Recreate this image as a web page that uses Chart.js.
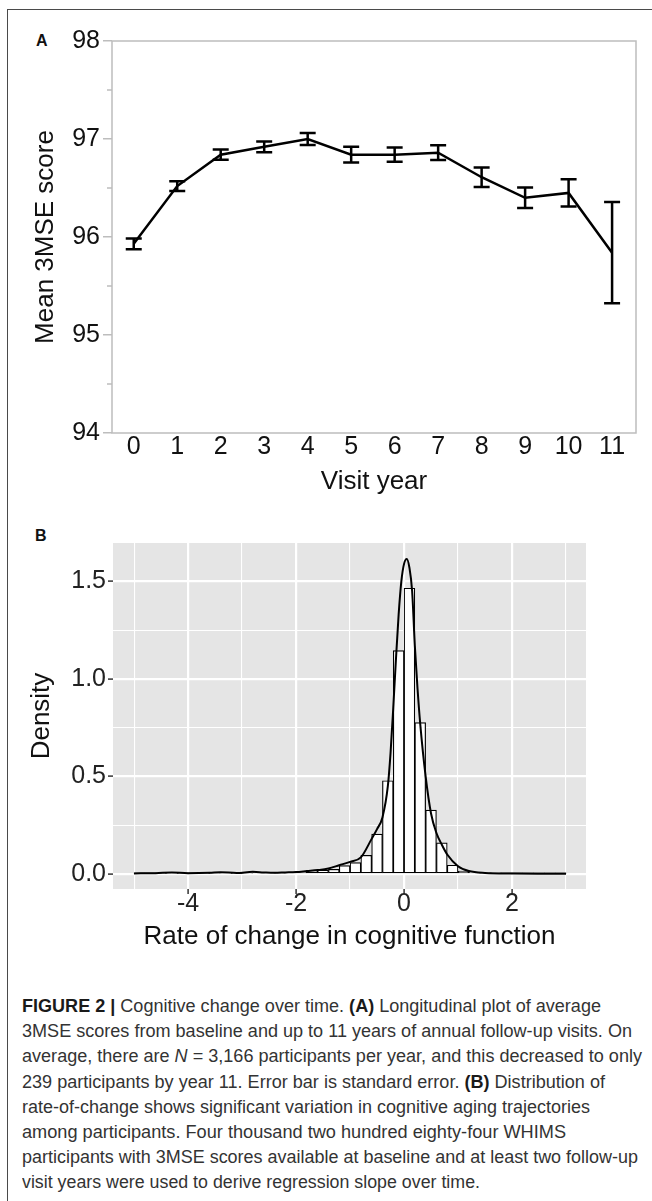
<!DOCTYPE html>
<html><head><meta charset="utf-8">
<script src="https://cdn.jsdelivr.net/npm/chart.js@4.4.0/dist/chart.umd.min.js"></script>
<style>
html,body{margin:0;padding:0;background:#fff;}
body{width:652px;height:1201px;position:relative;overflow:hidden;font-family:"Liberation Sans",Arial,sans-serif;}
#frame{position:absolute;left:7px;top:8.5px;width:700px;height:1300px;border-top:1.5px solid #4a4a4a;border-left:1.5px solid #4a4a4a;}
#cA{position:absolute;left:0;top:0;}
#cB{position:absolute;left:0;top:510px;}
.plabel{position:absolute;font-weight:bold;font-size:16px;line-height:1;color:#111;}
#caption{position:absolute;left:22px;top:994px;font-size:17.5px;line-height:25.2px;color:#333;}
#caption .ln{white-space:nowrap;transform-origin:0 50%;}
#caption b{color:#1a1a1a;}
</style></head>
<body>
<div id="frame"></div>
<div class="plabel" style="left:36px;top:33px">A</div>
<div class="plabel" style="left:35px;top:528px">B</div>
<canvas id="cA" width="652" height="510"></canvas>
<canvas id="cB" width="652" height="450"></canvas>
<div id="caption">
<div class="ln"><b>FIGURE 2 |</b> Cognitive change over time. <b>(A)</b> Longitudinal plot of average</div>
<div class="ln">3MSE scores from baseline and up to 11 years of annual follow-up visits. On</div>
<div class="ln">average, there are <i>N</i> = 3,166 participants per year, and this decreased to only</div>
<div class="ln">239 participants by year 11. Error bar is standard error. <b>(B)</b> Distribution of</div>
<div class="ln">rate-of-change shows significant variation in cognitive aging trajectories</div>
<div class="ln">among participants. Four thousand two hundred eighty-four WHIMS</div>
<div class="ln">participants with 3MSE scores available at baseline and at least two follow-up</div>
<div class="ln">visit years were used to derive regression slope over time.</div>
</div>
<script>
// ---------- Panel A data ----------
const visitYear = [0,1,2,3,4,5,6,7,8,9,10,11];
const meanScore = [95.93,96.52,96.84,96.92,97.00,96.84,96.84,96.86,96.61,96.40,96.45,95.84];
const stdErr    = [0.054,0.05,0.052,0.054,0.06,0.08,0.073,0.075,0.10,0.104,0.14,0.516];
const yTicksA = [94,95,96,97,98];
const yMinorTicksA = [94.5,95.5,96.5,97.5];

// ---------- Panel B data ----------
const binCenters = [-4.9,-4.7,-4.5,-4.3,-4.1,-3.9,-3.7,-3.5,-3.3,-3.1,-2.9,-2.7,-2.5,-2.3,-2.1,
  -1.9,-1.7,-1.5,-1.3,-1.1,-0.9,-0.7,-0.5,-0.3,-0.1,0.1,0.3,0.5,0.7,0.9,1.1,1.3,1.5,1.7,1.9,2.1,2.3,2.5,2.7,2.9];
const binDensity = [0.002,0.002,0.003,0.005,0.003,0.002,0.003,0.004,0.005,0.003,0.004,0.007,0.005,0.004,0.006,
  0.012,0.019,0.02,0.024,0.043,0.058,0.096,0.204,0.478,1.145,1.465,0.776,0.328,0.16,0.045,0.015,0.008,0.004,0.003,0.002,0.002,0.001,0.001,0.001,0.001];
const densityX = [-5.0,-4.6,-4.3,-4.0,-3.6,-3.4,-3.1,-2.8,-2.6,-2.4,-2.2,-2.0,-1.8,-1.6,-1.4,-1.2,-1.0,-0.8,-0.6,-0.5,-0.4,-0.3,-0.25,-0.2,-0.15,-0.1,-0.05,0.0,0.05,0.1,0.15,0.2,0.25,0.3,0.4,0.5,0.6,0.7,0.8,1.0,1.2,1.5,2.0,2.5,3.0];
const densityY = [0.003,0.004,0.008,0.004,0.006,0.009,0.005,0.011,0.008,0.006,0.008,0.01,0.015,0.02,0.028,0.045,0.062,0.085,0.18,0.23,0.29,0.45,0.62,0.85,1.1,1.33,1.5,1.59,1.615,1.57,1.45,1.17,0.95,0.77,0.5,0.31,0.21,0.15,0.1,0.04,0.015,0.005,0.002,0.001,0.001];
const xTicksB = [-5,-4,-3,-2,-1,0,1,2,3];
const xLabelsB = [-4,-2,0,2];
const yTicksB = [0,0.25,0.5,0.75,1,1.25,1.5];

const FONT = '"Liberation Sans", Arial, sans-serif';

// ---------- Chart A ----------
const errorBarPlugin = {
  id: 'errA',
  afterDatasetsDraw(chart) {
    const {ctx, chartArea, scales} = chart;
    const xs = scales.x, ys = scales.y;
    ctx.save();
    ctx.strokeStyle = '#bdbdbd';
    ctx.lineWidth = 1.5;
    ctx.strokeRect(chartArea.left, chartArea.top, chartArea.right - chartArea.left, chartArea.bottom - chartArea.top);
    ctx.beginPath();
    yMinorTicksA.forEach(v => {
      const y = ys.getPixelForValue(v);
      ctx.moveTo(chartArea.left - 5, y);
      ctx.lineTo(chartArea.left, y);
    });
    ctx.stroke();
    ctx.strokeStyle = '#000';
    ctx.lineWidth = 2.5;
    const cap = 8;
    visitYear.forEach((v, i) => {
      const x = xs.getPixelForValue(v);
      const yt = ys.getPixelForValue(meanScore[i] + stdErr[i]);
      const yb = ys.getPixelForValue(meanScore[i] - stdErr[i]);
      ctx.beginPath();
      ctx.moveTo(x, yt); ctx.lineTo(x, yb);
      ctx.moveTo(x - cap, yt); ctx.lineTo(x + cap, yt);
      ctx.moveTo(x - cap, yb); ctx.lineTo(x + cap, yb);
      ctx.stroke();
    });
    ctx.restore();
  }
};

new Chart(document.getElementById('cA'), {
  type: 'line',
  data: {
    datasets: [{
      data: visitYear.map((x, i) => ({x: x, y: meanScore[i]})),
      borderColor: '#000',
      borderWidth: 2.5,
      pointRadius: 0,
      tension: 0
    }]
  },
  options: {
    responsive: false,
    animation: false,
    events: [],
    layout: {padding: {left: 0, top: 41, right: 16, bottom: 0}},
    plugins: {legend: {display: false}, tooltip: {enabled: false}},
    scales: {
      x: {
        type: 'linear', min: -0.5, max: 11.55,
        afterBuildTicks: s => { s.ticks = visitYear.map(v => ({value: v})); },
        afterFit: s => { s.height = 77; },
        ticks: {font: {family: FONT, size: 25, lineHeight: 1}, color: '#111', padding: 1.5, autoSkip: false, maxRotation: 0, callback: v => String(v)},
        grid: {display: false, drawTicks: false},
        border: {display: false},
        title: {display: true, text: 'Visit year', font: {family: FONT, size: 26}, color: '#111', padding: {top: 0, bottom: 13}}
      },
      y: {
        min: 94, max: 98,
        afterBuildTicks: s => { s.ticks = yTicksA.map(v => ({value: v})); },
        afterFit: s => { s.width = 112; },
        ticks: {font: {family: FONT, size: 25}, color: '#111', padding: 3, callback: v => String(v)},
        grid: {drawOnChartArea: false, drawTicks: true, tickLength: 9, color: '#bdbdbd', lineWidth: 1.5},
        border: {display: false},
        title: {display: true, text: 'Mean 3MSE score', font: {family: FONT, size: 26}, color: '#111', padding: {top: 30, bottom: 0}}
      }
    }
  },
  plugins: [errorBarPlugin]
});

// ---------- Chart B ----------
const panelBg = {
  id: 'panelBg',
  beforeDraw(chart) {
    const {ctx, chartArea} = chart;
    ctx.save();
    ctx.fillStyle = '#E5E5E5';
    ctx.fillRect(chartArea.left, chartArea.top, chartArea.right - chartArea.left, chartArea.bottom - chartArea.top);
    ctx.restore();
  }
};
const isMajorX = v => xLabelsB.includes(v);
const isMajorY = v => Math.abs(v * 2 - Math.round(v * 2)) < 1e-9;

new Chart(document.getElementById('cB'), {
  type: 'bar',
  data: {
    datasets: [
      {
        type: 'line',
        data: densityX.map((x, i) => ({x: x, y: densityY[i]})),
        borderColor: '#000',
        borderWidth: 2,
        pointRadius: 0,
        cubicInterpolationMode: 'monotone',
        order: 0
      },
      {
        type: 'bar',
        data: binCenters.map((x, i) => ({x: x, y: binDensity[i]})),
        backgroundColor: '#fff',
        borderColor: '#000',
        borderWidth: 1.2,
        borderSkipped: false,
        barPercentage: 1,
        categoryPercentage: 1,
        order: 1
      }
    ]
  },
  options: {
    responsive: false,
    animation: false,
    events: [],
    layout: {padding: {left: 0, top: 33, right: 66, bottom: 0}},
    plugins: {legend: {display: false}, tooltip: {enabled: false}},
    scales: {
      x: {
        type: 'linear', min: -5.39, max: 3.37, offset: false,
        afterBuildTicks: s => { s.ticks = xTicksB.map(v => ({value: v})); },
        afterFit: s => { s.height = 71; },
        ticks: {font: {family: FONT, size: 25, lineHeight: 1}, color: '#222', padding: -2, autoSkip: false, maxRotation: 0,
          callback: v => isMajorX(v) ? String(v) : ''},
        grid: {offset: false, color: '#fff', lineWidth: c => isMajorX(c.tick.value) ? 2.2 : 1.1,
          drawTicks: true, tickLength: 5, tickWidth: 1.5,
          tickColor: c => isMajorX(c.tick.value) ? '#333' : 'rgba(0,0,0,0)'},
        border: {display: false},
        title: {display: true, text: 'Rate of change in cognitive function', font: {family: FONT, size: 26}, color: '#111', padding: {top: 0, bottom: 7.4}}
      },
      y: {
        min: -0.077, max: 1.697,
        afterBuildTicks: s => { s.ticks = yTicksB.map(v => ({value: v})); },
        afterFit: s => { s.width = 113; },
        ticks: {font: {family: FONT, size: 25}, color: '#222', padding: 2,
          callback: v => isMajorY(v) ? v.toFixed(1) : ''},
        grid: {color: '#fff', lineWidth: c => isMajorY(c.tick.value) ? 2.2 : 1.1,
          drawTicks: true, tickLength: 5, tickWidth: 1.5,
          tickColor: c => isMajorY(c.tick.value) ? '#333' : 'rgba(0,0,0,0)'},
        border: {display: false},
        title: {display: true, text: 'Density', font: {family: FONT, size: 26}, color: '#111', padding: {top: 26, bottom: 0}}
      }
    }
  },
  plugins: [panelBg]
});

// fit caption lines to their measured widths in the reference
const lineRight = [601,632,642,605,590,566,638,480];
document.querySelectorAll('#caption .ln').forEach((el, i) => {
  const r = document.createRange();
  r.selectNodeContents(el);
  const w = r.getBoundingClientRect().width;
  const k = (lineRight[i] - 22) / w;
  if (k > 0.85 && k < 1.15) el.style.transform = 'scaleX(' + k.toFixed(4) + ')';
});
</script>
</body></html>
